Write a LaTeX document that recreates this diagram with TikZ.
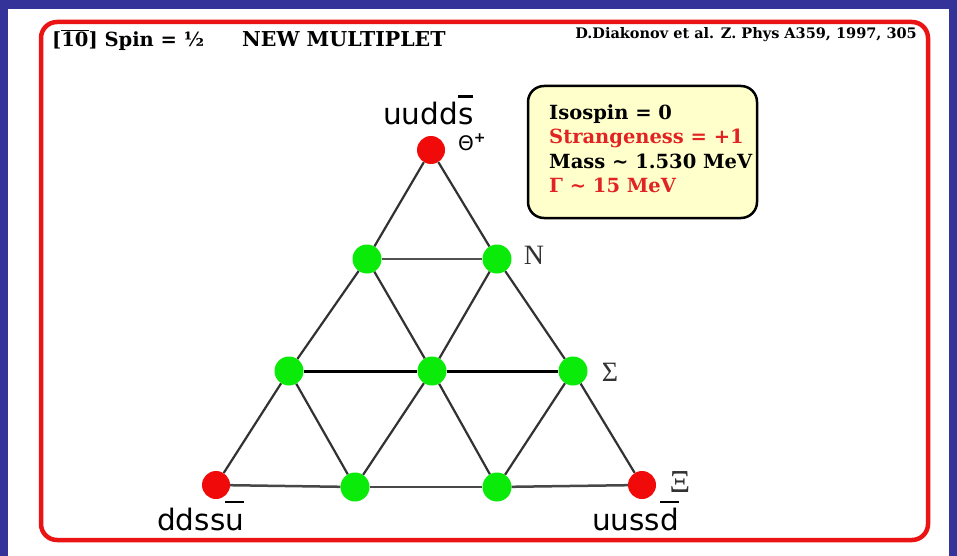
\documentclass[tikz,border=0pt]{standalone}
\usepackage{fontspec}
\setmainfont{DejaVu Serif}
\newfontfamily\djsans{DejaVu Sans}
\newfontfamily\libserif{Liberation Serif}
\definecolor{bgblue}{RGB}{51,51,153}
\definecolor{framered}{RGB}{235,20,20}
\definecolor{ballred}{RGB}{240,10,10}
\definecolor{ballgreen}{RGB}{10,235,10}
\definecolor{boxyellow}{RGB}{255,255,204}
\definecolor{txtred}{RGB}{225,35,35}
\definecolor{linegray}{RGB}{50,50,50}
\newcommand\barred[2][0.93em]{\setbox0\hbox{#2}\rlap{\raisebox{#1}{\rule{\wd0}{0.07em}}}\box0}
\tikzset{
  redball/.style={circle, fill=ballred, minimum size=28pt, inner sep=0pt},
  greenball/.style={circle, fill=ballgreen, minimum size=29pt, inner sep=0pt},
  edge/.style={draw=linegray, line width=2.2pt},
  thinedge/.style={draw=linegray!85, line width=1.3pt},
  thickedge/.style={draw=black, line width=3pt},
  baseedge/.style={draw=linegray!90, line width=2.5pt},
  quark/.style={font=\djsans\fontsize{29.5}{32}\selectfont, inner sep=0pt, anchor=base west},
  greek/.style={font=\libserif\fontsize{28}{30}\selectfont, text=linegray, inner sep=0pt},
  hdr/.style={font=\bfseries\fontsize{19.5}{22}\selectfont, inner sep=0pt, anchor=base west},
  citetxt/.style={font=\bfseries\fontsize{14.5}{17}\selectfont, inner sep=0pt, anchor=base east},
  boxtxt/.style={font=\bfseries\fontsize{19.5}{22}\selectfont, inner sep=0pt, anchor=base west},
}
\begin{document}
\begin{tikzpicture}[x=1pt,y=-1pt]
\useasboundingbox (0,0) rectangle (957,556);
\fill[bgblue] (0,0) rectangle (957,556);
\fill[white] (8,9) rectangle (949,556);
\draw[framered, line width=4.5pt, rounded corners=16pt] (41,22) rectangle (928,540);

% header
\node[hdr] (title) at (52,47) {[\barred[0.82em]{10}] Spin = ½};
\node[hdr, font=\bfseries\fontsize{20.5}{22}\selectfont] (multi) at (242,47) {NEW MULTIPLET};
\node[citetxt] (ref) at (917,39) {D.Diakonov et al. Z. Phys A359, 1997, 305};

% info box
\draw[black, line width=2.5pt, fill=boxyellow, rounded corners=16pt] (528,86) rectangle (757,218);
\node[boxtxt] (iso) at (549,120) {Isospin = 0};
\node[boxtxt, text=txtred] (str) at (549,144) {Strangeness = +1};
\node[boxtxt] (mass) at (549,168) {Mass \textasciitilde{} 1.530 MeV};
\node[boxtxt, text=txtred] (width) at (549,193) {Γ \textasciitilde{} 15 MeV};

% states
\node[redball] (t) at (431,150) {};
\node[greenball] (a1) at (367,259) {};
\node[greenball] (b1) at (497,259) {};
\node[greenball] (a2) at (289,371) {};
\node[greenball] (b2) at (432,371) {};
\node[greenball] (c2) at (573,371) {};
\node[redball] (a3) at (216,485) {};
\node[greenball] (b3) at (355,487) {};
\node[greenball] (c3) at (497,487) {};
\node[redball] (d3) at (642,485) {};

% connectors
\draw[edge] (t) -- (a1);
\draw[edge] (a1) -- (a2);
\draw[edge] (a2) -- (a3);
\draw[edge] (t) -- (b1);
\draw[edge] (b1) -- (c2);
\draw[edge] (c2) -- (d3);
\draw[thinedge] (a1) -- (b1);
\draw[thickedge] (a2) -- (b2);
\draw[thickedge] (b2) -- (c2);
\draw[baseedge] (a3) -- (b3);
\draw[baseedge] (b3) -- (c3);
\draw[baseedge] (c3) -- (d3);
\draw[edge] (a1) -- (b2);
\draw[edge] (b2) -- (c3);
\draw[edge] (b1) -- (b2);
\draw[edge] (b2) -- (b3);
\draw[edge] (a2) -- (b3);
\draw[edge] (c2) -- (c3);

% labels
\node[quark] (qt) at (383,125) {uudd\barred{s}};
\node[font=\djsans\fontsize{20}{22}\selectfont, inner sep=0pt, anchor=base west] (theta) at (458,150) {Θ\textsuperscript{\bfseries +}};
\node[greek] (lN) at (534,255) {N};
\node[greek] (lS) at (610,372) {Σ};
\node[greek, font=\libserif\fontsize{32}{34}\selectfont] (lX) at (680,482) {Ξ};
\node[quark] (ql) at (157,530) {ddss\barred{u}};
\node[quark] (qr) at (592,530) {uuss\barred{d}};
\end{tikzpicture}
\end{document}
